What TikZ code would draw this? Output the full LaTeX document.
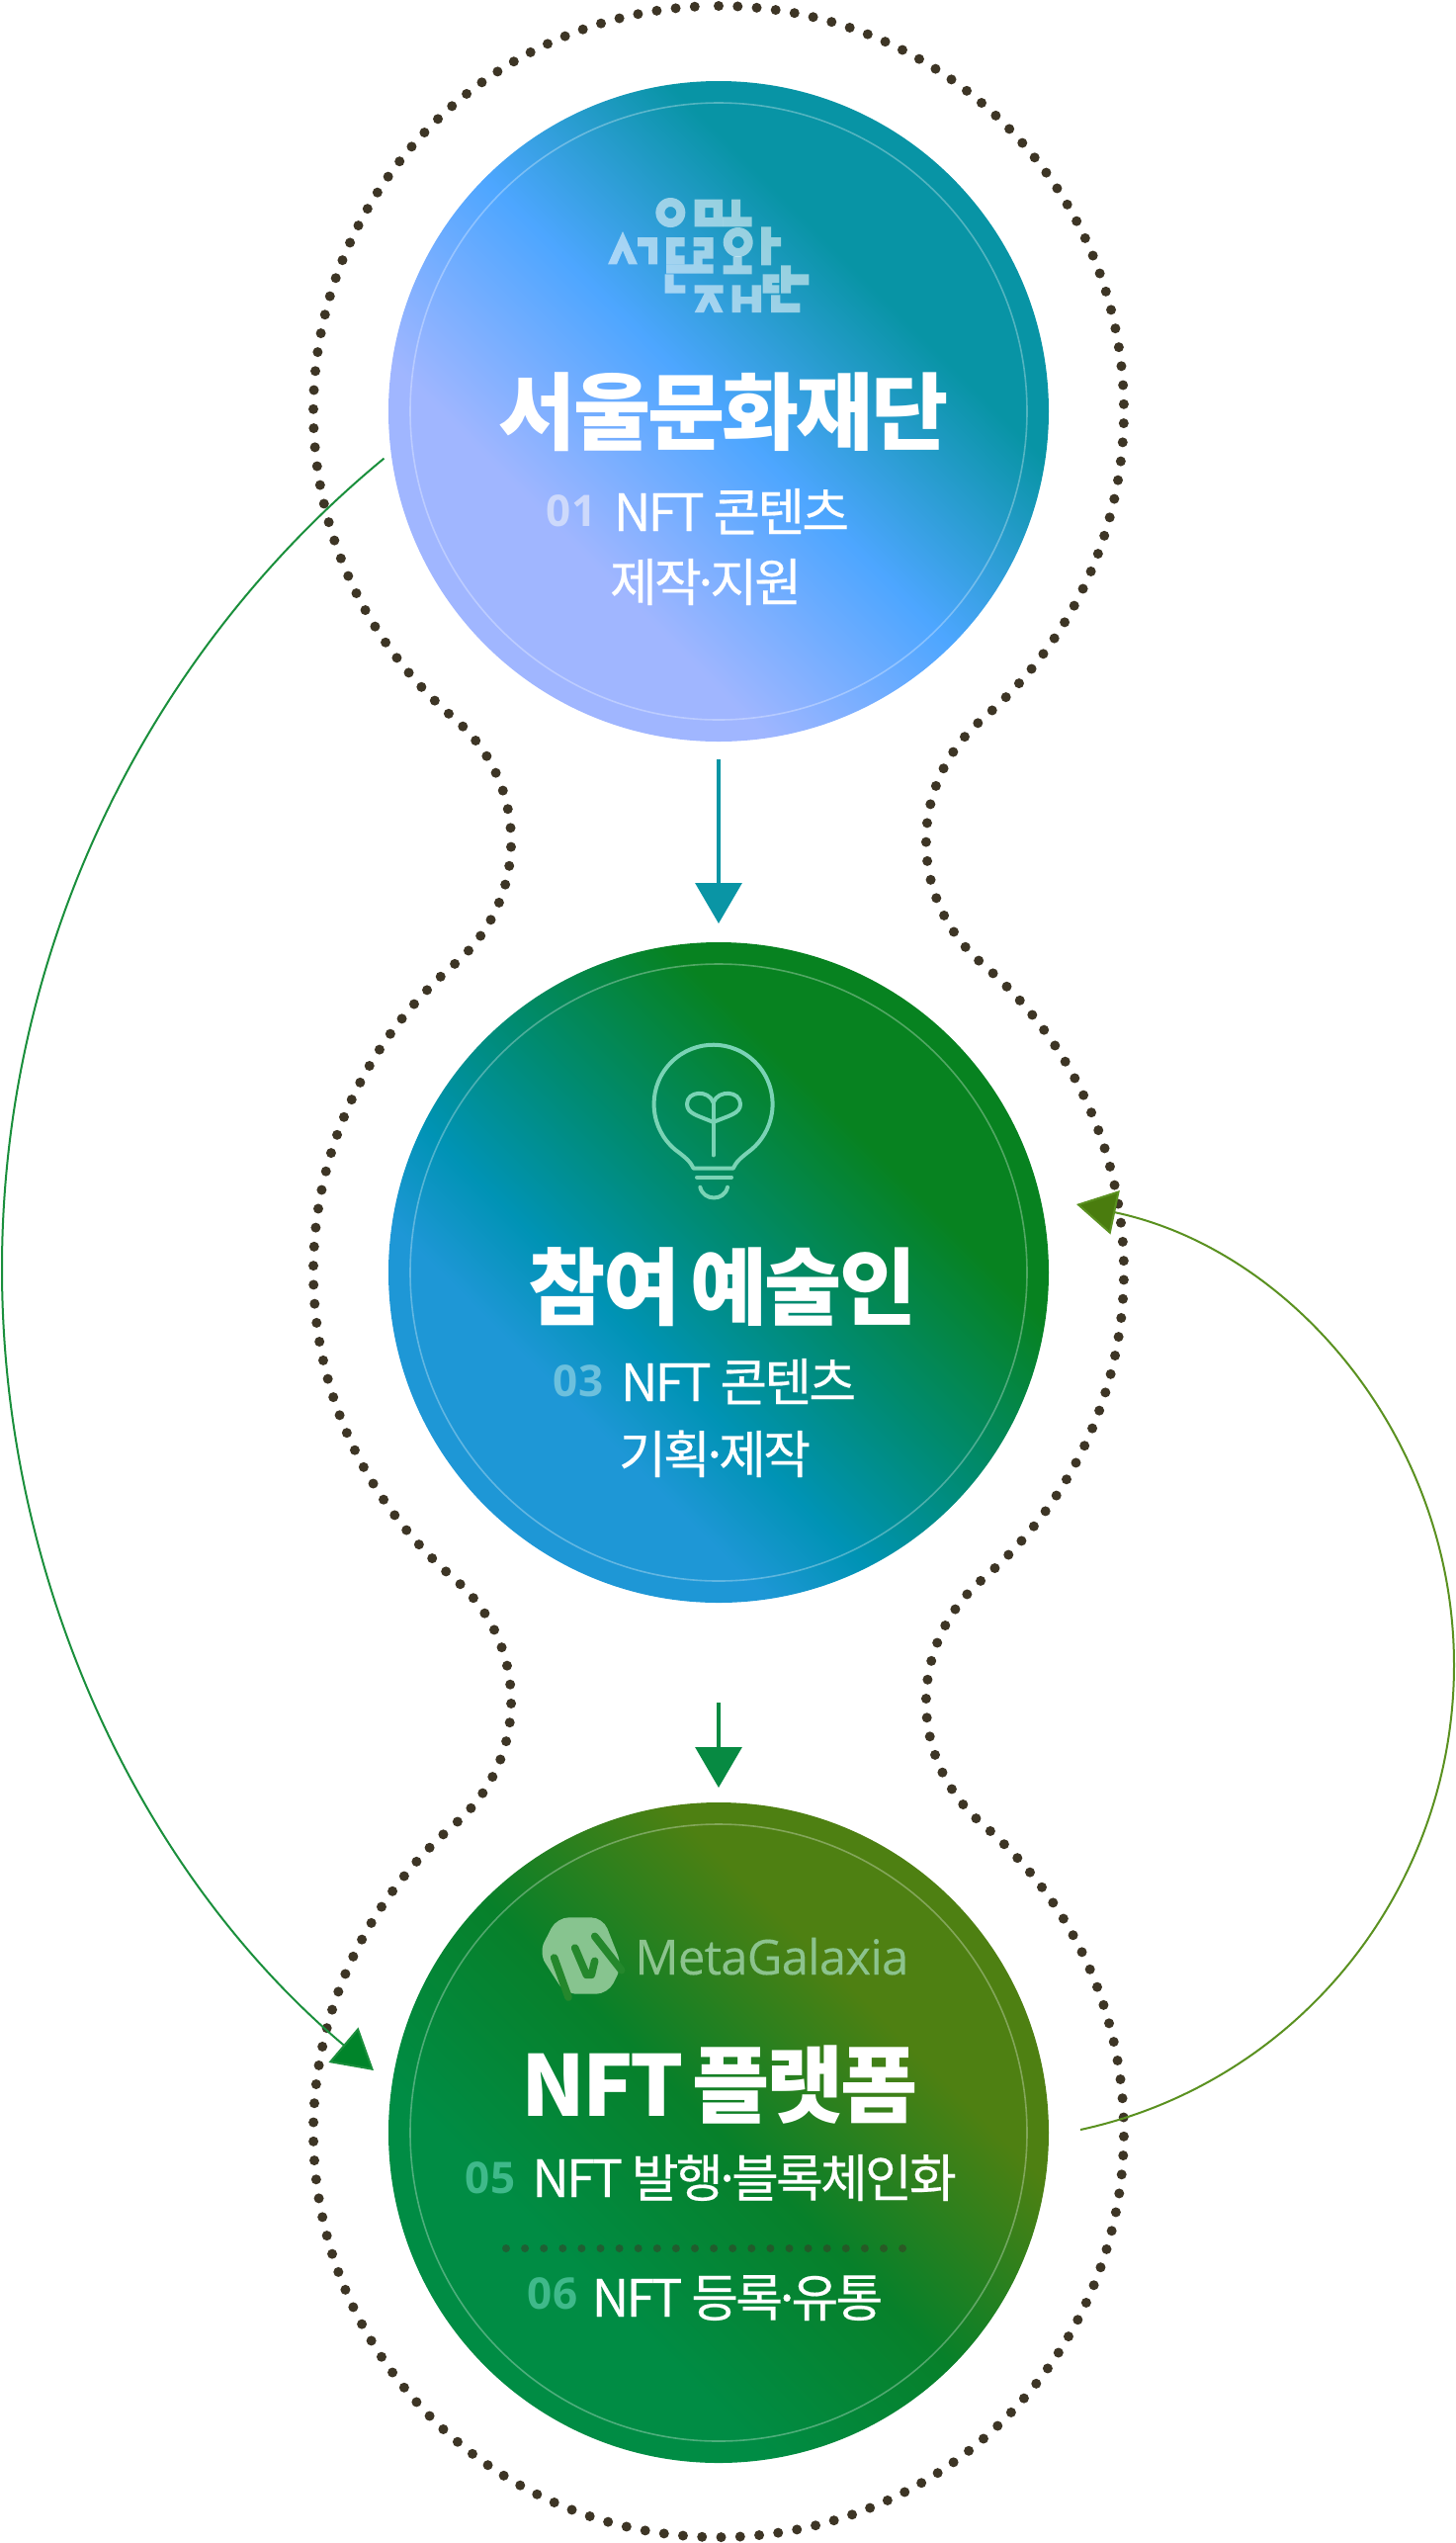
\documentclass[tikz,border=0pt]{standalone}
\usepackage{fontspec}
\usetikzlibrary{arrows.meta}
\newfontfamily\krfont[LetterSpace=-3.5]{Noto Sans CJK KR}
\newfontfamily\krbody[LetterSpace=-5.5,FakeBold=0.35]{Noto Sans CJK KR}
\newfontfamily\numfont{Open Sans}
\newfontfamily\logofont[LetterSpace=-1.5,FakeBold=0.2]{Open Sans}
\newcommand{\middot}{\kern-.2em·\kern-.2em}
\definecolor{dotc}{HTML}{3D3525}
\definecolor{sA}{HTML}{A0B6FF}\definecolor{sB}{HTML}{4DA6FF}\definecolor{sC}{HTML}{0894A5}
\definecolor{aA}{HTML}{1E97D6}\definecolor{aB}{HTML}{0093B5}\definecolor{aC}{HTML}{008B73}\definecolor{aD}{HTML}{078220}
\definecolor{pA}{HTML}{008C44}\definecolor{pB}{HTML}{07802A}\definecolor{pC}{HTML}{4E8012}
\definecolor{logoc}{HTML}{8CC38E}\definecolor{hexc}{HTML}{87C48F}\definecolor{hexcut}{HTML}{24872C}
\definecolor{bulbc}{HTML}{7AD3B5}
\definecolor{numA}{HTML}{CDD9FB}\definecolor{numB}{HTML}{6CC0DD}\definecolor{numC}{HTML}{3FB98A}
\pgfdeclarehorizontalshading{seoulgrad}{100bp}{color(0bp)=(sA);color(35bp)=(sA);color(50bp)=(sB);color(65bp)=(sC);color(100bp)=(sC)}
\pgfdeclarehorizontalshading{artistgrad}{100bp}{color(0bp)=(aA);color(35bp)=(aA);color(42bp)=(aB);color(52bp)=(aC);color(65bp)=(aD);color(100bp)=(aD)}
\pgfdeclarehorizontalshading{platgrad}{100bp}{color(0bp)=(pA);color(35bp)=(pA);color(50bp)=(pB);color(65bp)=(pC);color(100bp)=(pC)}
\tikzset{
  disc/.style={circle,minimum size=334pt,inner sep=0pt,outer sep=0pt,shading angle=45},
  ring/.style={draw=white,draw opacity=.3,line width=.8pt,fill=none},
  titletext/.style={text=white,inner sep=0pt,anchor=base,font=\fontsize{42.5}{42.5}\selectfont\krfont\bfseries},
  bodytext/.style={text=white,inner sep=0pt,anchor=base,font=\fontsize{26}{26}\selectfont\krbody},
  numtext/.style={inner sep=0pt,anchor=base,font=\fontsize{22}{22}\selectfont\numfont\bfseries},
  dotted outline/.style={draw=dotc,line width=5pt,line cap=round,dash pattern=on 0pt off 9.65pt},
  flow/.style={line width=1.6pt},
  thinflow/.style={line width=1pt},
  logofill/.style={fill=white,fill opacity=.55,draw=none},
  bulbline/.style={draw=bulbc,line width=2pt,line cap=round,line join=round},
}
\begin{document}
\begin{tikzpicture}[x=0.5pt,y=-0.5pt]
\useasboundingbox (0,0) rectangle (1473,2572);
% dotted outline
\draw[dotted outline] (727,6)
  arc[start angle=-90,end angle=49.4,radius=410]
  arc[start angle=229.4,end angle=130.6,radius=163]
  arc[start angle=-49.4,end angle=49.4,radius=410]
  arc[start angle=229.4,end angle=130.6,radius=163]
  arc[start angle=-49.4,end angle=229.4,radius=410]
  arc[start angle=49.4,end angle=-49.4,radius=163]
  arc[start angle=130.6,end angle=229.4,radius=410]
  arc[start angle=49.4,end angle=-49.4,radius=163]
  arc[start angle=130.6,end angle=267.5,radius=410];
% discs
\node[disc,shading=seoulgrad] (seoul) at (727,416) {};
\node[disc,shading=artistgrad] (artist) at (727,1287) {};
\node[disc,shading=platgrad] (platform) at (727,2157) {};
\draw[ring] (seoul.center) circle[radius=312];
\draw[ring] (artist.center) circle[radius=312];
\draw[ring] (platform.center) circle[radius=312];
% straight arrows
\definecolor{arrA}{HTML}{0A95A5}\definecolor{arrB}{HTML}{078A42}
\draw[flow,draw=arrA,-{Triangle[length=20.5pt,width=23.5pt,fill=arrA]},shorten <=9pt,shorten >=9.5pt] (seoul.south) -- (artist.north);
\draw[flow,draw=arrB,-{Triangle[length=20.5pt,width=23.5pt,fill=arrB]},shorten <=50.5pt,shorten >=7.5pt] (artist.south) -- (platform.north);
% curved arrows
\definecolor{arrC}{HTML}{1A8F3C}\definecolor{arrCh}{HTML}{00842A}
\definecolor{arrD}{HTML}{5A9120}\definecolor{arrDh}{HTML}{4A7C0E}
\coordinate (leftstart) at (388.5,463.6);
\coordinate (leftmid) at (2,1283);
\coordinate (lefttip) at (378,2094);
\coordinate (rightstart) at (1093,2154);
\coordinate (rightmid) at (1471,1684);
\coordinate (righttip) at (1089,1218);
\draw[thinflow,draw=arrC,-{Triangle[length=20pt,width=23pt,fill=arrCh]}] (leftstart)
  .. controls (143.9,665.2) and (2,966) .. (leftmid)
  .. controls (2,1595.6) and (139.2,1892.2) .. (lefttip);
\draw[thinflow,draw=arrD,-{Triangle[length=20pt,width=22.5pt,fill=arrDh]}] (rightstart)
  .. controls (1314,2106.3) and (1471,1910) .. (rightmid)
  .. controls (1471,1458) and (1310,1264.6) .. (righttip);
% Seoul logo
\begin{scope}[shift={(600,190)},x=0.1667pt,y=-0.1667pt]
  \fill[logofill,even odd rule] (235,75) circle[radius=45] (235,75) circle[radius=18];
  \fill[logofill,even odd rule] (308,35) rectangle (393,118) (340,60) rectangle (365,90);
  \fill[logofill] (420,35)--(447,35)--(447,88)--(482,88)--(482,118)--(393,118)--(393,88)--(420,88)--cycle;
  \fill[logofill] (90,132)--(135,232)--(108,232)--(90,190)--(72,232)--(45,232)--cycle;
  \fill[logofill] (135,150)--(195,150)--(195,232)--(168,232)--(168,178)--(135,178)--cycle;
  \fill[logofill] (222,150)--(278,150)--(278,178)--(250,178)--(250,205)--(278,205)--(278,232)--(222,232)--cycle;
  \fill[logofill] (305,150)--(365,150)--(365,215)--(332,215)--(332,232)--(365,232)--(365,260)--(222,260)--(222,232)--(305,232)--(305,190)--(338,190)--(338,178)--(305,178)--cycle;
  \fill[logofill] (218,262)--(245,262)--(245,295)--(280,295)--(280,320)--(218,320)--cycle;
  \fill[logofill,even odd rule] (440,165) circle[radius=45] (440,165) circle[radius=18];
  \fill[logofill] (425,208)--(452,208)--(452,235)--(482,235)--(482,262)--(395,262)--(395,235)--(425,235)--cycle;
  \fill[logofill] (510,118)--(540,118)--(540,150)--(570,150)--(570,178)--(540,178)--(540,235)--(510,235)--cycle;
  \fill[logofill] (308,295)--(395,295)--(395,320)--(366,320)--(395,378)--(368,378)--(352,345)--(336,378)--(308,378)--(338,320)--(308,320)--cycle;
  \fill[logofill] (422,295)--(448,295)--(448,330)--(482,330)--(482,295)--(510,295)--(510,378)--(482,378)--(482,352)--(448,352)--(448,378)--(422,378)--cycle;
  \fill[logofill] (515,262)--(565,262)--(565,288)--(543,288)--(543,295)--(565,295)--(565,320)--(515,320)--cycle;
  \fill[logofill] (570,235)--(600,235)--(600,262)--(655,262)--(655,295)--(600,295)--(600,320)--(570,320)--cycle;
  \fill[logofill] (540,325)--(568,325)--(568,350)--(628,350)--(628,378)--(540,378)--cycle;
\end{scope}
% Seoul text
\node[titletext] (seoultitle) at (732,448) {서울문화재단};
\node[numtext,text=numA] (n01) at (578,532) {01};
\node[bodytext] (seoulb1) at (740,537) {NFT 콘텐츠};
\node[bodytext] (seoulb2) at (714,608) {제작\middot 지원};
% bulb
\begin{scope}[shift={(650,1040)},x=0.1667pt,y=-0.1667pt]
  \draw[bulbline] (155,425) .. controls (145,405) and (135,395) .. (99,368)
     arc[start angle=130,end angle=410,radius=180]
     .. controls (295,395) and (285,405) .. (275,425) -- cycle;
  \draw[bulbline] (165,452) -- (270,452);
  \draw[bulbline] (175,482) .. controls (185,525) and (248,525) .. (258,482);
  \draw[bulbline] (215,385) -- (215,225);
  \draw[bulbline] (215,285) .. controls (170,265) and (135,260) .. (135,230) .. controls (135,190) and (200,185) .. (215,225);
  \draw[bulbline] (215,285) .. controls (260,265) and (297,260) .. (297,230) .. controls (297,190) and (230,185) .. (215,225);
\end{scope}
% artist text
\node[titletext] (artisttitle) at (731,1333) {참여\kern-3pt{} 예술인};
\node[numtext,text=numB] (n03) at (585,1412) {03};
\node[bodytext] (artistb1) at (747,1417) {NFT 콘텐츠};
\node[bodytext] (artistb2) at (723,1490) {기획\middot 제작};
% MetaGalaxia logo
\begin{scope}[shift={(530,1920)},x=0.1667pt,y=-0.1667pt]
  \fill[fill=hexc,rounded corners=6pt] (100,58)--(240,58)--(298,205)--(255,290)--(125,290)--(45,165)--cycle;
  \draw[draw=hexcut,line width=3.8pt,line cap=round] (92,180)--(135,300);
  \draw[draw=hexcut,line width=3.8pt,line cap=round,line join=round] (155,150)--(190,232)--(205,232)--(215,190);
  \draw[draw=hexcut,line width=3.8pt,line cap=round] (215,115)--(296,218);
\end{scope}
\node[inner sep=0pt,anchor=base west,text=logoc,font=\fontsize{24.5}{24.5}\selectfont\logofont] (metatext) at (642,1997) {MetaGalaxia};
% platform text
\node[titletext] (plattitle) at (728,2140) {NFT\kern-4pt{} 플랫폼};
\node[numtext,text=numC] (n05) at (496,2218) {05};
\node[bodytext] (platb1) at (753,2222) {NFT 발행\middot 블록체인화};
\coordinate (sepl) at (512,2274);
\coordinate (sepr) at (922,2274);
\draw[draw=dotc,draw opacity=.5,line width=4pt,line cap=round,dash pattern=on 0pt off 9.55pt] (sepl) -- (sepr);
\node[numtext,text=numC] (n06) at (559,2335) {06};
\node[bodytext] (platb2) at (746,2343) {NFT 등록\middot 유통};
\end{tikzpicture}
\end{document}
